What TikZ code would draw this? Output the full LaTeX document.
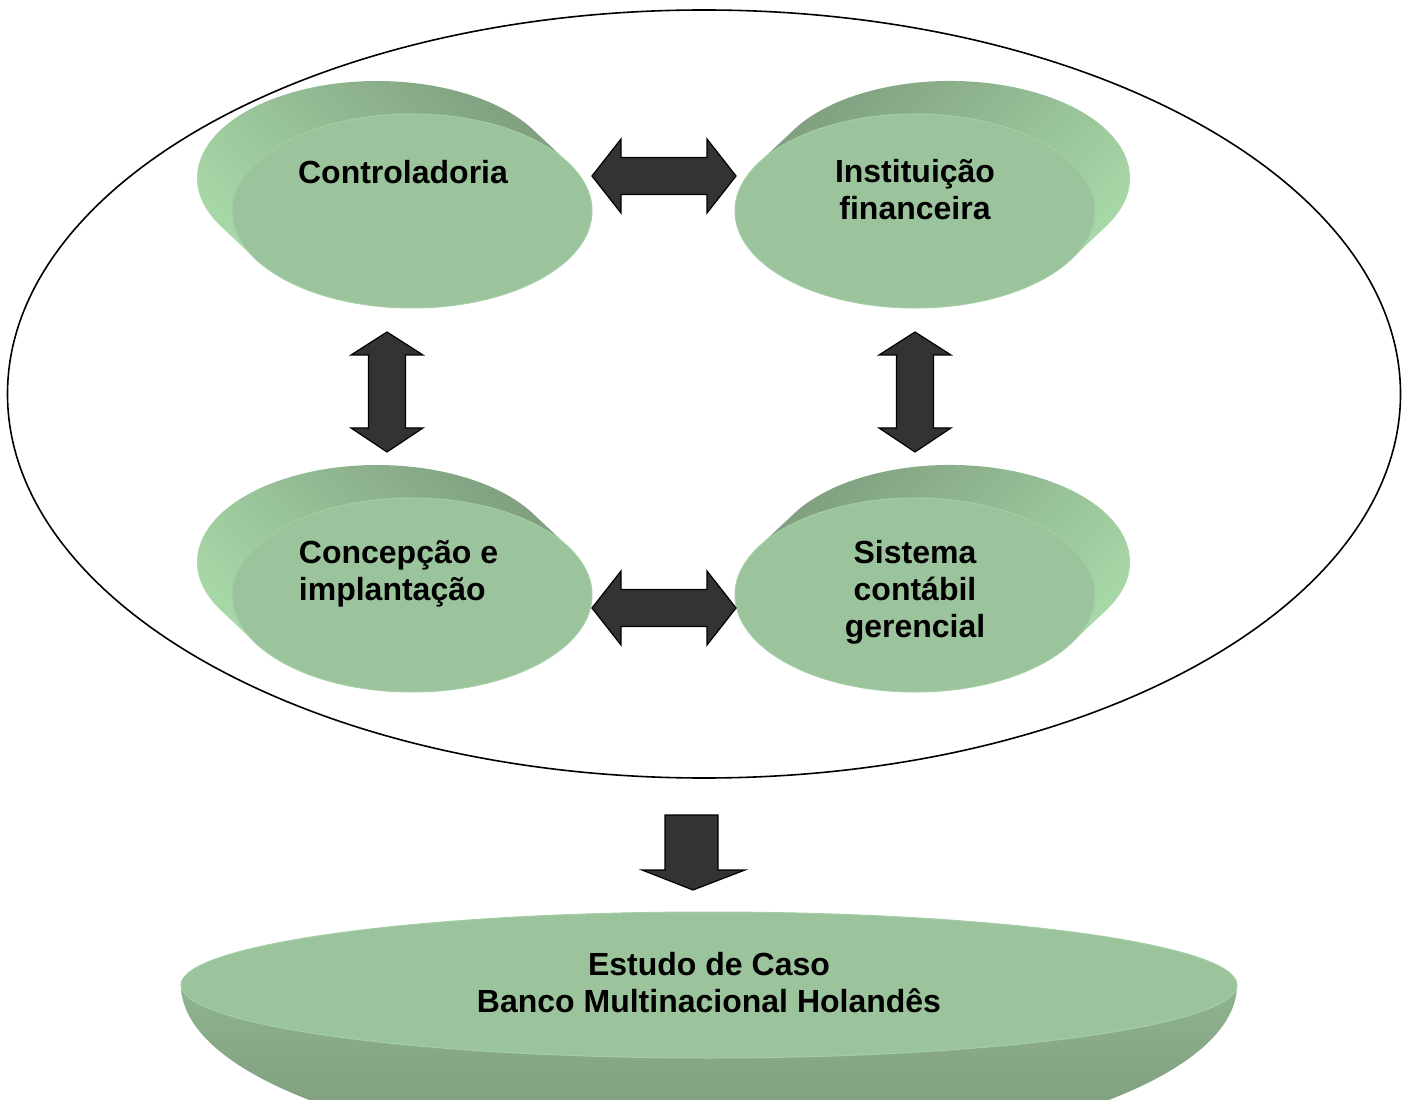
\documentclass[tikz,border=0pt]{standalone}
\usepackage{fontspec}
\setmainfont{Liberation Sans}
\usetikzlibrary{shapes.geometric}
\definecolor{facegreen}{HTML}{9CC49C}
\definecolor{rimgreen}{HTML}{A6CEA6}
\definecolor{sidedark}{HTML}{7C9A7C}
\definecolor{sidelight}{HTML}{ACDEAC}
\definecolor{basedark}{HTML}{7A987A}
\definecolor{baselight}{HTML}{98BE98}
\definecolor{arrowgray}{HTML}{333333}
\begin{document}
\begin{tikzpicture}[x=0.5pt,y=0.5pt,
  face/.style={ellipse, fill=facegreen, draw=rimgreen, line width=0.5pt, inner sep=0pt,
               minimum width=180pt, minimum height=97pt},
  lbl/.style={font=\fontsize{16}{18.5}\selectfont\bfseries, align=center, inner sep=0pt},
  blockarrow/.style={fill=arrowgray, draw=black, line width=0.6pt, line join=miter}]
\useasboundingbox (0,0) rectangle (1408,1099);
\clip (0,0) rectangle (1408,1099);

% outer ellipse
\draw[line width=0.8pt] (704,705) ellipse [x radius=696.5, y radius=384];

% disc sides
\shade[top color=sidedark, bottom color=sidelight, shading angle=-45]
  (533.3,969.1) arc[start angle=29.75, end angle=209.75, x radius=180, y radius=97]
  -- (255.7,839.9) arc[start angle=209.75, end angle=389.75, x radius=180, y radius=97] -- cycle;
\shade[top color=sidedark, bottom color=sidelight, shading angle=45]
  (1106.3,872.9) arc[start angle=-29.75, end angle=150.25, x radius=180, y radius=97]
  -- (758.7,936.1) arc[start angle=150.25, end angle=330.25, x radius=180, y radius=97] -- cycle;
\shade[top color=sidedark, bottom color=sidelight, shading angle=-45]
  (533.3,585.1) arc[start angle=29.75, end angle=209.75, x radius=180, y radius=97]
  -- (255.7,455.9) arc[start angle=209.75, end angle=389.75, x radius=180, y radius=97] -- cycle;
\shade[top color=sidedark, bottom color=sidelight, shading angle=45]
  (1106.3,488.9) arc[start angle=-29.75, end angle=150.25, x radius=180, y radius=97]
  -- (758.7,552.1) arc[start angle=150.25, end angle=330.25, x radius=180, y radius=97] -- cycle;

% disc faces
\node[face] (ctrl) at (412,888) {};
\node[face] (inst) at (915,888) {};
\node[face] (conc) at (412,504) {};
\node[face] (sist) at (915,504) {};

% labels
\node[lbl] (tctrl) at (403,927) {Controladoria};
\node[lbl] (tinst) at (915,909) {Instituição\\financeira};
\node[lbl, align=left] (tconc) at (398.5,525) {Concepção e\\implantação};
\node[lbl] (tsist) at (915,507) {Sistema\\contábil\\gerencial};

% double arrows
\draw[blockarrow] (592,923) -- (621,960) -- (621,941.5) -- (707,941.5) -- (707,960) -- (736,923)
  -- (707,886) -- (707,904.5) -- (621,904.5) -- (621,886) -- cycle;
\draw[blockarrow] (592,491) -- (621,528) -- (621,509.5) -- (707,509.5) -- (707,528) -- (736,491)
  -- (707,454) -- (707,472.5) -- (621,472.5) -- (621,454) -- cycle;
\draw[blockarrow] (387,767) -- (423,744) -- (405.5,744) -- (405.5,671) -- (423,671) -- (387,647)
  -- (351,671) -- (368.5,671) -- (368.5,744) -- (351,744) -- cycle;
\draw[blockarrow] (915,767) -- (951,744) -- (933.5,744) -- (933.5,671) -- (951,671) -- (915,647)
  -- (879,671) -- (896.5,671) -- (896.5,744) -- (879,744) -- cycle;

% down arrow
\draw[blockarrow] (665,284) -- (718,284) -- (718,229) -- (745,229) -- (693,209) -- (642,229)
  -- (665,229) -- cycle;

% bottom disc
\shade[top color=baselight, bottom color=basedark]
  (181,114) arc[start angle=180, end angle=360, x radius=528, y radius=176]
  arc[start angle=0, end angle=180, x radius=528, y radius=73] -- cycle;
\node[ellipse, fill=facegreen, draw=rimgreen, line width=0.5pt, inner sep=0pt,
      minimum width=528pt, minimum height=73pt] (caso) at (709,114) {};
\node[lbl] (tcaso) at (709,116) {Estudo de Caso\\Banco Multinacional Holandês};
\end{tikzpicture}
\end{document}
